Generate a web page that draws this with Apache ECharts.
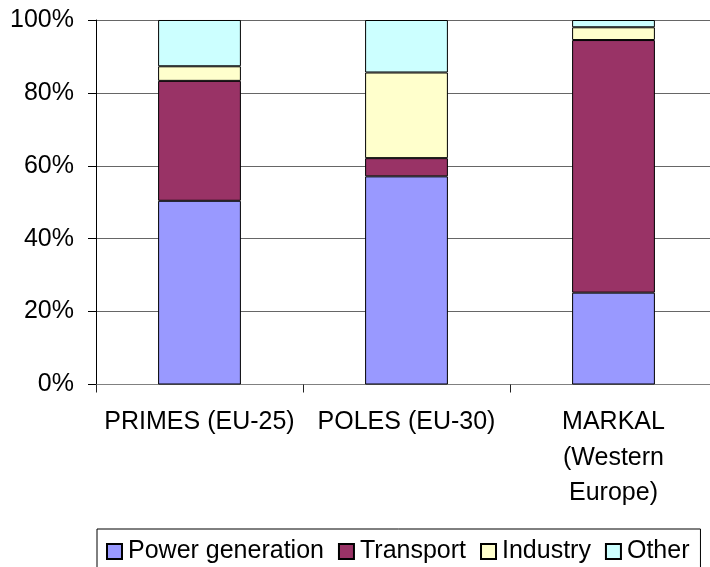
<!DOCTYPE html>
<html>
<head>
<meta charset="utf-8">
<script src="https://cdn.jsdelivr.net/npm/echarts@6/dist/echarts.min.js"></script>
<style>
  html, body { margin: 0; padding: 0; background: #ffffff; overflow: hidden; }
  #chart { width: 724px; height: 567px; }
</style>
</head>
<body>
<div id="chart"></div>
<script>
// Share of each sector per model (percent of total)
const categories = ['PRIMES (EU-25)', 'POLES (EU-30)', 'MARKAL\n(Western\nEurope)'];
const powerGeneration = [50.4, 57.1, 25.2];
const transport = [32.9, 5.0, 69.3];
const industry = [4.0, 23.5, 3.5];
const other = [12.7, 14.4, 2.0];
const yTicks = [0, 20, 40, 60, 80, 100];

const FONT = 'Liberation Sans, Arial, sans-serif';

function barSeries(name, data, color) {
  return {
    name: name,
    type: 'bar',
    stack: 'share',
    data: data,
    barWidth: '40%',
    itemStyle: { color: color, borderColor: '#000000', borderWidth: 1 },
    emphasis: { disabled: true }
  };
}

const chart = echarts.init(document.getElementById('chart'), null, { renderer: 'canvas' });
chart.setOption({
  backgroundColor: '#ffffff',
  animation: false,
  textStyle: { fontFamily: FONT },
  // plot area runs slightly past the right edge of the page
  grid: { left: 96, top: 20, width: 621, height: 364.5, containLabel: false },
  xAxis: {
    type: 'category',
    data: categories,
    boundaryGap: true,
    axisLine: { show: true, lineStyle: { color: '#808080', width: 1 } },
    axisTick: { show: true, length: 8, alignWithLabel: false, lineStyle: { color: '#222222' } },
    axisLabel: {
      interval: 0,
      margin: 20,
      fontSize: 25,
      lineHeight: 35.5,
      color: '#000000',
      fontFamily: FONT,
      align: 'center'
    },
    splitLine: { show: false }
  },
  yAxis: {
    type: 'value',
    min: yTicks[0],
    max: yTicks[yTicks.length - 1],
    interval: 20,
    axisLine: { show: true, lineStyle: { color: '#000000', width: 1 } },
    axisTick: { show: true, length: 8, inside: false, lineStyle: { color: '#000000' } },
    axisLabel: {
      margin: 22,
      fontSize: 25,
      color: '#000000',
      fontFamily: FONT,
      formatter: function (v) { return v + '%'; }
    },
    splitLine: { show: true, lineStyle: { color: '#666666', width: 1 } }
  },
  legend: {
    left: 97,
    top: 529,
    orient: 'horizontal',
    itemWidth: 15,
    itemHeight: 15,
    itemGap: 14,
    padding: [10, 11, 40, 9],
    borderColor: '#000000',
    borderWidth: 1,
    backgroundColor: '#ffffff',
    textStyle: { fontSize: 25, color: '#000000', fontFamily: FONT, padding: [0, 0, 0, 1] },
    icon: 'rect',
    data: ['Power generation', 'Transport', 'Industry', 'Other']
  },
  series: [
    barSeries('Power generation', powerGeneration, '#9999FF'),
    barSeries('Transport', transport, '#993366'),
    barSeries('Industry', industry, '#FFFFCC'),
    barSeries('Other', other, '#CCFFFF')
  ]
});
</script>
</body>
</html>
